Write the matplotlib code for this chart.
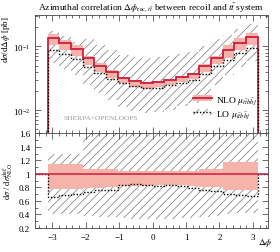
import numpy as np
import matplotlib
matplotlib.use("Agg")
import matplotlib.pyplot as plt
from matplotlib.patches import Patch
from matplotlib.lines import Line2D
from matplotlib.ticker import FixedLocator, MultipleLocator, FixedFormatter, LogLocator, NullFormatter

plt.rcParams['font.family'] = ['Liberation Serif', 'DejaVu Serif']
plt.rcParams['mathtext.fontset'] = 'stix'
plt.rcParams['hatch.linewidth'] = 0.5
plt.rcParams['hatch.color'] = '#777777'

# 18 bins in delta phi from -pi to pi
edges = np.linspace(-np.pi, np.pi, 19)

# NLO central value [pb]
nlo = [0.135, 0.111, 0.090, 0.065, 0.050, 0.040, 0.032, 0.0284, 0.0264,
       0.0274, 0.0297, 0.0328, 0.0369, 0.0487, 0.065, 0.0875, 0.114, 0.138]
# NLO scale band, relative to NLO
nlo_hi = [1.15, 1.15, 1.15, 1.08, 1.08, 1.07, 1.05, 1.05, 1.05,
          1.04, 1.05, 1.05, 1.05, 1.07, 1.08, 1.18, 1.18, 1.18]
nlo_lo = [0.78, 0.78, 0.78, 0.79, 0.79, 0.80, 0.82, 0.82, 0.82,
          0.83, 0.83, 0.83, 0.82, 0.80, 0.80, 0.76, 0.76, 0.76]
# LO central value, relative to NLO
lo = [0.66, 0.69, 0.70, 0.74, 0.76, 0.77, 0.84, 0.85, 0.84,
      0.82, 0.83, 0.82, 0.79, 0.77, 0.75, 0.71, 0.69, 0.68]
# LO scale band, relative to NLO
lo_hi = [1.30, 1.30, 1.30, 2.0, 2.1, 2.2, 2.3, 2.4, 2.5,
         2.5, 2.4, 2.3, 2.2, 2.1, 2.0, 1.7, 1.65, 1.6]
lo_lo = [0.40, 0.40, 0.40, 0.38, 0.37, 0.36, 0.35, 0.34, 0.34,
         0.34, 0.34, 0.35, 0.35, 0.36, 0.38, 0.41, 0.42, 0.42]

nlo = np.array(nlo)
red = '#d01c3c'
pink = '#f6b3a9'
fs = 6.8

fig = plt.figure(figsize=(2.8, 2.53), dpi=100)
ax = fig.add_axes([0.125, 0.4684, 0.832, 0.4684])
rx = fig.add_axes([0.125, 0.0949, 0.832, 0.3735], sharex=ax)

# main panel
ax.stairs(nlo * np.array(lo_hi), edges, baseline=nlo * np.array(lo_lo), fill=True,
          facecolor='none', edgecolor='#777777', hatch='////', linewidth=0)
ax.stairs(nlo * np.array(nlo_hi), edges, baseline=nlo * np.array(nlo_lo), fill=True,
          color=pink, linewidth=0)
ax.stairs(nlo, edges, baseline=1e-6, color=red, lw=1.3)
ax.stairs(nlo * np.array(lo), edges, baseline=1e-6, color='black', lw=1.0, ls=(0, (1, 1.3)))

ax.set_yscale('log')
ax.set_ylim(0.0043, 0.31)
ax.set_xlim(-3.52, 3.45)
ax.set_title(r'Azimuthal correlation $\Delta\phi_{\mathrm{rec},t\bar{t}}$ between recoil and $t\bar{t}$ system',
             fontsize=fs, pad=4)
ax.set_ylabel(r'd$\sigma$/d$\Delta\phi$ [pb]', fontsize=6.5, loc='top')
ax.yaxis.set_label_coords(-0.1, 1.0)
ax.yaxis.set_major_locator(LogLocator(base=10, numticks=10))
ax.yaxis.set_minor_locator(LogLocator(base=10, subs=np.arange(2, 10), numticks=10))
ax.yaxis.set_minor_formatter(NullFormatter())
ax.tick_params(labelbottom=False)

ax.text(0.283, 0.131, 'SHERPA+OPENLOOPS', transform=ax.transAxes, fontsize=5.3,
        color='#999999', ha='center', va='center')

h_nlo = (Patch(facecolor=pink, edgecolor='none'), Line2D([], [], color=red, lw=1.3))
h_lo = (Patch(facecolor='none', edgecolor='#777777', hatch='////', lw=0),
        Line2D([], [], color='black', lw=1.0, ls=(0, (1, 1.3))))
ax.legend([h_nlo, h_lo], [r'NLO $\mu_{t\bar{t}b\bar{b}j}$', r'LO $\mu_{t\bar{t}b\bar{b}j}$'],
          loc='lower right', bbox_to_anchor=(0.98, 0.06), frameon=False, fontsize=fs,
          handlelength=2.0, handleheight=0.6, labelspacing=0.25, handletextpad=0.4,
          borderpad=0.2)

# ratio panel
rx.stairs(np.array(lo_hi), edges, baseline=np.array(lo_lo), fill=True,
          facecolor='none', edgecolor='#777777', hatch='////', linewidth=0)
rx.stairs(np.array(nlo_hi), edges, baseline=np.array(nlo_lo), fill=True,
          color=pink, linewidth=0)
rx.axhline(1.0, color=red, lw=1.1)
lo_ext = np.concatenate([[1.0], lo, [1.0]])
edges_ext = np.concatenate([[-3.52], edges, [3.45]])
rx.stairs(lo_ext, edges_ext, baseline=None, color='black', lw=1.0, ls=(0, (1, 1.3)))

rx.set_ylim(0.2, 1.6)
rx.yaxis.set_major_locator(FixedLocator([0.2, 0.4, 0.6, 0.8, 1.0, 1.2, 1.4, 1.6]))
rx.yaxis.set_major_formatter(FixedFormatter(['0.2', '0.4', '0.6', '0.8', '1', '1.2', '1.4', '1.6']))
rx.yaxis.set_minor_locator(MultipleLocator(0.1))
rx.xaxis.set_major_locator(MultipleLocator(1))
rx.xaxis.set_minor_locator(MultipleLocator(0.2))
rx.set_ylabel(r'd$\sigma$ / d$\sigma^{\mathrm{def}}_{\mathrm{NLO}}$', fontsize=6.0)
rx.yaxis.set_label_coords(-0.082, 0.5)
fig.text(265 / 280, 1 - 243 / 253, r'$\Delta\phi$', fontsize=fs, ha='center', va='center')

for a in (ax, rx):
    a.tick_params(which='both', direction='in', top=True, right=True, labelsize=6.5,
                  width=0.5, colors='#333333', labelcolor='black')
    a.tick_params(which='major', length=4)
    a.tick_params(which='minor', length=2)
    for s in a.spines.values():
        s.set_linewidth(0.6)
        s.set_color('#444444')

fig.savefig('out.png', dpi=100)
